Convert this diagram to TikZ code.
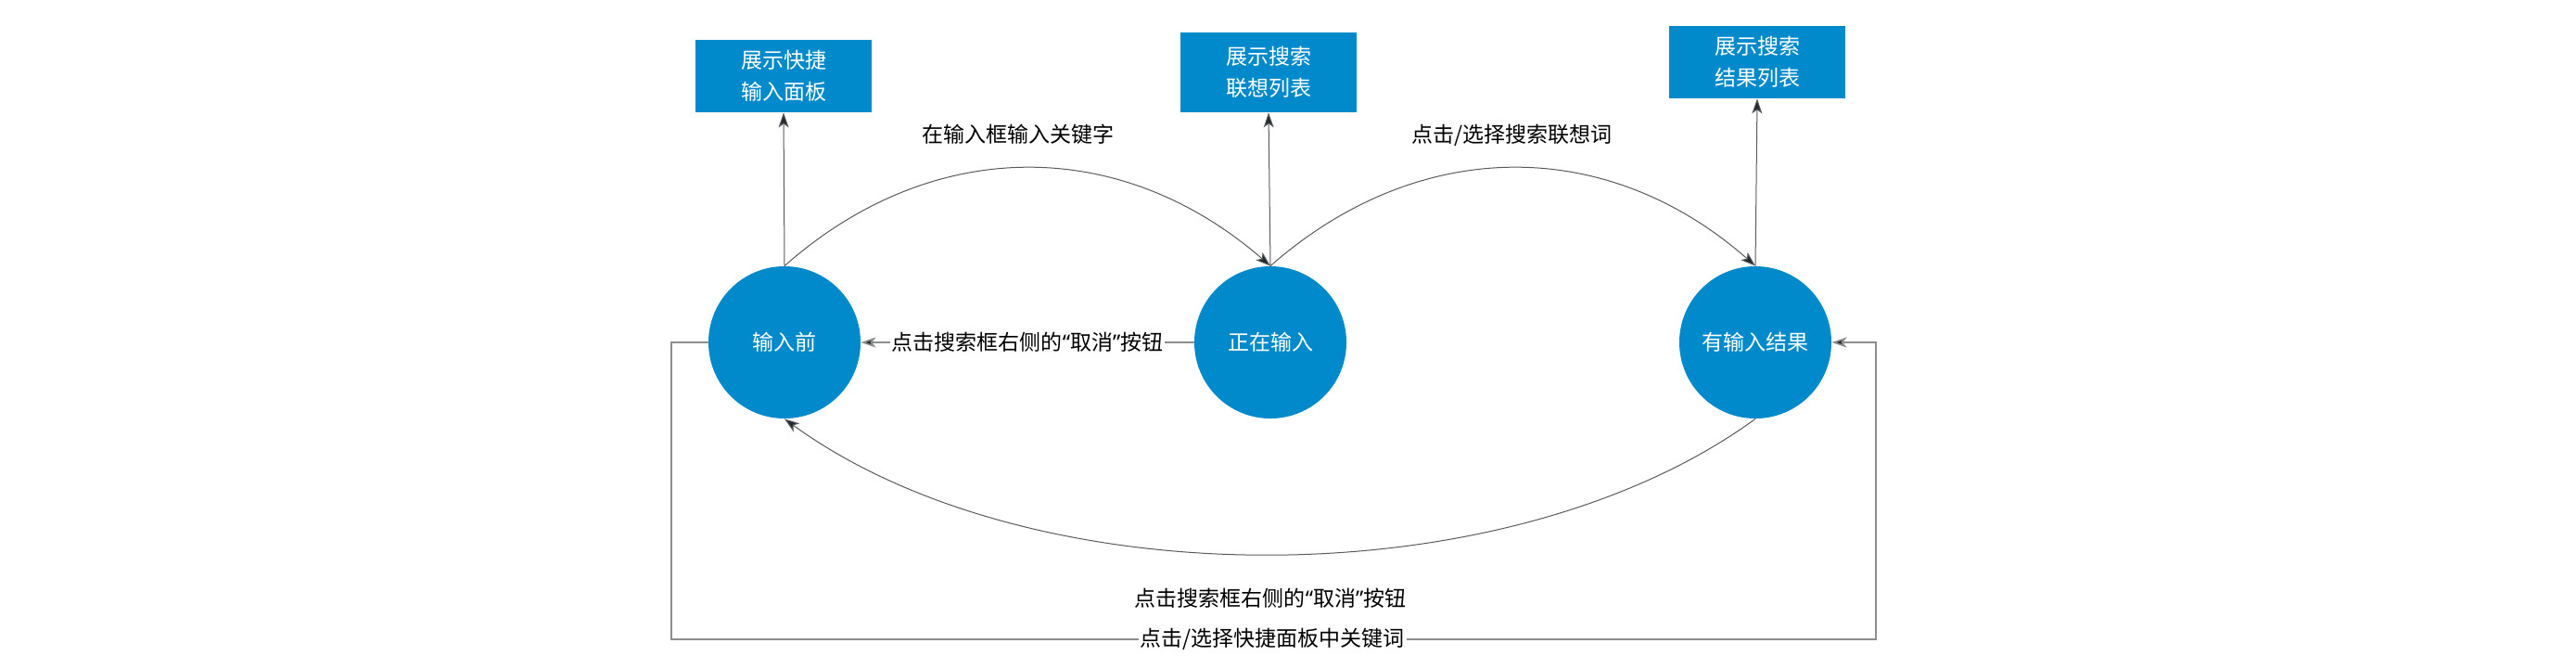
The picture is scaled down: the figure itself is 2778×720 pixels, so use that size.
\documentclass[tikz,border=0pt]{standalone}
\usepackage{fontspec}
\newfontfamily\cjk{Noto Sans CJK SC}
\newfontfamily\latq{Noto Sans}
\newcommand{\myLQ}{{\latq “}}
\newcommand{\myRQ}{{\latq ”}}
\usetikzlibrary{arrows.meta}
\definecolor{stateblue}{HTML}{008ACC}
\definecolor{curvegray}{HTML}{5A5A5A}
\definecolor{linegray}{HTML}{8E8E8E}
\definecolor{tipdark}{HTML}{1E2A30}
\tikzset{
  circ/.style={circle, fill=stateblue, draw=none, minimum size=82pt, inner sep=0pt, text=white, font=\cjk\fontsize{11.5}{17}\selectfont},
  box/.style={rectangle, fill=stateblue, draw=none, minimum width=95pt, inner sep=0pt, text=white, align=center, font=\cjk\fontsize{11.5}{17}\selectfont},
  lbl/.style={inner sep=1pt, text=black, font=\cjk\fontsize{11.5}{14}\selectfont},
  tip/.style={-{Stealth[length=8pt,width=5.5pt,inset=2pt,fill=tipdark]}},
  curvearr/.style={tip, draw=curvegray, line width=0.5pt},
  vertarr/.style={tip, draw=curvegray, line width=0.5pt},
  ortharr/.style={tip, draw=linegray, line width=0.8pt}
}
\begin{document}
\begin{tikzpicture}[x=0.5pt,y=-0.5pt]
\useasboundingbox (0,0) rectangle (2778,720);
% states
\node[circ] (c1) at (846,369) {输入前};
\node[circ] (c2) at (1370,369) {正在输入};
\node[circ] (c3) at (1893,369) {有输入结果};
% boxes
\node[box, minimum height=39pt] (b1) at (845,82) {展示快捷\\输入面板};
\node[box, minimum height=43pt] (b2) at (1368,78) {展示搜索\\联想列表};
\node[box, minimum height=39pt] (b3) at (1895,67) {展示搜索\\结果列表};
% vertical arrows
\draw[vertarr] (c1.north) -- (b1.south);
\draw[vertarr] (c2.north) -- (b2.south);
\draw[vertarr] (c3.north) -- (b3.south);
% top arcs
\draw[curvearr] (c1.north) .. controls (1005,146) and (1208,146) .. (c2.north);
\draw[curvearr] (c2.north) .. controls (1530,146) and (1733,146) .. (c3.north);
\node[lbl] (l1) at (1098,145) {在输入框输入关键字};
\node[lbl] (l2) at (1630,146) {点击/选择搜索联想词};
% bottom arc
\draw[curvearr] (c3.south) .. controls (1626,646) and (1114,646) .. (c1.south);
\node[lbl] (l3) at (1370,645) {点击搜索框右侧的\myLQ 取消\myRQ 按钮};
% middle arrow
\draw[ortharr] (c2.west) -- (c1.east) node[lbl, fill=white, midway] (l4) {点击搜索框右侧的\myLQ 取消\myRQ 按钮};
% outer loop
\coordinate (p1) at (724,369);
\coordinate (p2) at (724,689);
\coordinate (p3) at (2023,689);
\coordinate (p4) at (2023,369);
\draw[ortharr] (c1.west) -- (p1) -- (p2) -- (p3) -- (p4) -- (c3.east);
\node[lbl, fill=white] (l5) at (1372,689) {点击/选择快捷面板中关键词};
\end{tikzpicture}
\end{document}
